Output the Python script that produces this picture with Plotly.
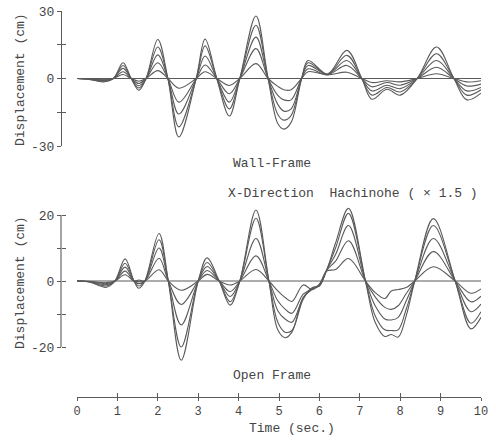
import plotly.graph_objects as go

# ---------------- data ----------------
# Wall-Frame panel: key times (s) and displacement (cm) of the five traces
T_WALL = [0.0, 0.3, 0.65, 0.9, 1.14, 1.34, 1.53, 1.71, 2.0, 2.25, 2.52, 2.95,
          3.17, 3.46, 3.77, 4.03, 4.43, 4.73, 4.97, 5.12, 5.3, 5.56, 5.72, 6.2,
          6.68, 7.05, 7.3, 7.67, 8.0, 8.42, 8.9, 9.33, 9.65, 10.0]
WALL_1 = [0, -0.4, -1.5, 0, 7.0, 0, -5.2, 0, 17.3, 0, -26.0, 0, 17.5, 0, -16.7, 0,
          27.8, 0, -20.0, -22.5, -19.5, 0, 8.0, 2.0, 12.5, 0, -9.2, -4.8, -7.4, 0,
          14.0, 0, -9.5, -6.5]
WALL_2 = [0, -0.3, -1.2, 0, 5.8, 0, -4.2, 0, 14.0, 0, -21.5, 0, 14.5, 0, -13.5, 0,
          23.7, 0, -16.0, -18.5, -16.5, 0, 7.0, 1.9, 10.3, 0, -7.4, -4.0, -6.0, 0,
          11.0, 0, -7.4, -5.0]
WALL_3 = [0, -0.2, -0.9, 0, 4.5, 0, -3.2, 0, 10.5, 0, -15.8, 0, 10.0, 0, -10.5, 0,
          18.4, 0, -11.5, -14.5, -13.5, 0, 5.8, 1.8, 8.0, 0, -5.5, -3.0, -4.5, 0,
          8.0, 0, -5.5, -4.0]
WALL_4 = [0, -0.15, -0.6, 0, 3.0, 0, -2.2, 0, 7.0, 0, -10.5, 0, 6.0, 0, -6.8, 0,
          13.3, 0, -7.5, -9.5, -9.5, 0, 4.3, 1.7, 5.8, 0, -3.7, -1.8, -3.0, 0,
          5.0, 0, -3.3, -2.5]
WALL_5 = [0, -0.1, -0.3, 0, 1.8, 0, -1.2, 0, 3.5, 0, -4.3, 0, 3.0, 0, -3.1, 0,
          6.6, 0, -3.5, -5.0, -5.0, 0, 3.0, 1.6, 2.8, 0, -1.8, -1.0, -1.5, 0,
          2.1, 0, -1.5, -1.0]

# Open Frame panel
T_OPEN = [0.0, 0.3, 0.73, 0.94, 1.19, 1.41, 1.53, 1.68, 2.03, 2.26, 2.58, 3.0,
          3.22, 3.52, 3.79, 4.03, 4.43, 4.75, 4.97, 5.15, 5.32, 5.6, 5.82, 6.0,
          6.18, 6.4, 6.72, 7.14, 7.38, 7.62, 7.78, 7.95, 8.15, 8.36, 8.82, 9.36,
          9.75, 10.0]
OPEN_1 = [0, -0.3, -1.9, 0, 6.7, 0, -2.2, 0, 14.4, 0, -24.0, 0, 7.0, 0, -7.3, 0,
          21.5, 0, -14.8, -17.2, -15.5, -5.0, -2.6, -1.2, 3.3, 11.5, 22.0, 0,
          -12.5, -16.8, -16.2, -17.0, -10.5, 0, 18.9, 0, -14.5, -11.0]
OPEN_2 = [0, -0.25, -1.5, 0, 5.4, 0, -1.5, 0, 12.5, 0, -20.0, 0, 5.6, 0, -6.3, 0,
          19.0, 0, -12.5, -15.5, -15.0, -5.5, -2.2, -1.5, 3.3, 10.0, 20.5, 0,
          -10.5, -14.8, -15.0, -14.8, -8.5, 0, 16.8, 0, -12.8, -9.3]
OPEN_3 = [0, -0.2, -1.1, 0, 4.2, 0, -0.8, 0, 10.0, 0, -13.3, 0, 4.4, 0, -4.7, 0,
          12.9, 0, -9.0, -11.5, -12.5, -5.0, -2.0, -1.5, 3.3, 8.0, 16.8, 0,
          -7.5, -11.5, -11.8, -11.0, -6.0, 0, 12.9, 0, -9.3, -7.0]
OPEN_4 = [0, -0.15, -0.8, 0, 3.0, 0, -0.2, 0, 6.9, 0, -7.1, 0, 3.2, 0, -3.2, 0,
          7.6, 0, -6.0, -8.5, -9.8, -4.0, -2.4, -1.0, 3.3, 6.0, 12.2, 0,
          -4.8, -8.0, -8.6, -7.5, -3.8, 0, 8.9, 0, -6.3, -4.6]
OPEN_5 = [0, -0.1, -0.5, 0, 1.9, 0, 0.3, 0, 3.4, 0, -2.8, 0, 2.0, 0, -1.2, 0,
          3.5, 0, -3.0, -5.0, -6.2, -1.2, -2.6, -1.0, 3.0, 3.5, 6.8, 0,
          -3.5, -5.3, -3.0, -2.6, -2.0, 0, 4.3, 0, -3.7, -2.4]

BASE_T = [0.0, 10.0]
BASE_Y = [0.0, 0.0]

X_TICKS = [0, 1, 2, 3, 4, 5, 6, 7, 8, 9, 10]
X_TICK_TEXT = ["0", "1", "2", "3", "4", "5", "6", "7", "8", "9", "10"]
WALL_TICKS = [-30, -15, 0, 15, 30]
WALL_TICK_TEXT = ["-30", "", "0", "", "30"]
OPEN_TICKS = [-20, -10, 0, 10, 20]
OPEN_TICK_TEXT = ["-20", "", "0", "", "20"]
OPEN_AXIS_SPAN = [-20, 20]

# ---------------- style ----------------
W, H = 496, 444
INK = "#5a5a5a"
TXT = "#454545"
FONT = "Liberation Mono"
LW = 1.1

def px(x):
    return x / W

def py(y):
    return 1 - y / H

X_DOM = [px(77), px(481)]
Y_AXIS_POS = px(61)
TOP_DOM = [py(146), py(11)]
BOT_DOM = [py(363.5), py(198.5)]
X_AXIS_POS = py(397)

fig = go.Figure()

for vals in [WALL_1, WALL_2, WALL_3, WALL_4, WALL_5]:
    fig.add_trace(go.Scatter(x=T_WALL, y=vals, mode="lines", xaxis="x", yaxis="y",
                             line=dict(color=INK, width=LW, shape="spline", smoothing=1.0),
                             hoverinfo="skip", showlegend=False))
fig.add_trace(go.Scatter(x=BASE_T, y=BASE_Y, mode="lines", xaxis="x", yaxis="y3",
                         line=dict(color=INK, width=LW), hoverinfo="skip", showlegend=False))

for vals in [OPEN_1, OPEN_2, OPEN_3, OPEN_4, OPEN_5]:
    fig.add_trace(go.Scatter(x=T_OPEN, y=vals, mode="lines", xaxis="x2", yaxis="y2",
                             line=dict(color=INK, width=LW, shape="spline", smoothing=1.0),
                             hoverinfo="skip", showlegend=False))
fig.add_trace(go.Scatter(x=BASE_T, y=BASE_Y, mode="lines", xaxis="x3", yaxis="y4",
                         line=dict(color=INK, width=LW), hoverinfo="skip", showlegend=False))

tickfont = dict(family=FONT, size=13, color=TXT)
xtickfont = dict(family=FONT, size=12, color=TXT)

fig.update_layout(
    width=W, height=H,
    margin=dict(l=0, r=0, t=0, b=0, autoexpand=False),
    paper_bgcolor="white", plot_bgcolor="white",
    font=dict(family=FONT, size=13, color=TXT),
    xaxis=dict(domain=X_DOM, range=[0, 10], anchor="y", visible=False, automargin=False),
    yaxis=dict(domain=TOP_DOM, range=[-30, 30], anchor="free", position=Y_AXIS_POS,
               tickvals=WALL_TICKS, ticktext=WALL_TICK_TEXT, ticks="outside", ticklen=4,
               tickcolor=INK, showline=True, linecolor=INK, linewidth=LW,
               showgrid=False, zeroline=False, tickfont=tickfont, automargin=False),
    yaxis3=dict(overlaying="y", range=[-30, 30], anchor="free", position=Y_AXIS_POS,
                tickvals=WALL_TICKS, ticks="inside", ticklen=4, tickcolor=INK,
                showticklabels=False, showline=False, showgrid=False, zeroline=False,
                automargin=False),
    xaxis2=dict(domain=X_DOM, range=[0, 10], anchor="free", position=X_AXIS_POS,
                tickvals=X_TICKS, ticktext=X_TICK_TEXT, ticks="outside", ticklen=3,
                tickcolor=INK, showline=True, linecolor=INK, linewidth=LW,
                showgrid=False, zeroline=False, tickfont=xtickfont, automargin=False),
    xaxis3=dict(overlaying="x2", range=[0, 10], anchor="free", position=X_AXIS_POS,
                tickvals=X_TICKS, ticks="inside", ticklen=4, tickcolor=INK,
                showticklabels=False, showline=False, showgrid=False, zeroline=False,
                automargin=False),
    yaxis2=dict(domain=BOT_DOM, range=[-25, 25], anchor="free", position=Y_AXIS_POS,
                tickvals=OPEN_TICKS, ticktext=OPEN_TICK_TEXT, ticks="outside", ticklen=4,
                tickcolor=INK, showline=False, showgrid=False, zeroline=False,
                tickfont=tickfont, automargin=False),
    yaxis4=dict(overlaying="y2", range=[-25, 25], anchor="free", position=Y_AXIS_POS,
                tickvals=OPEN_TICKS, ticks="inside", ticklen=4, tickcolor=INK,
                showticklabels=False, showline=False, showgrid=False, zeroline=False,
                automargin=False),
    shapes=[dict(type="line", xref="paper", x0=Y_AXIS_POS, x1=Y_AXIS_POS,
                 yref="y2", y0=OPEN_AXIS_SPAN[0], y1=OPEN_AXIS_SPAN[1],
                 line=dict(color=INK, width=LW))],
)

def note(text, x, y, angle=0):
    fig.add_annotation(text=text, x=px(x), y=py(y), xref="paper", yref="paper",
                       showarrow=False, textangle=angle, xanchor="center", yanchor="middle",
                       font=dict(family=FONT, size=13, color=TXT))

note("Wall-Frame", 272, 163)
note("X-Direction\u00a0\u00a0Hachinohe\u00a0(\u00a0×\u00a01.5\u00a0)", 353, 193)
note("Open Frame", 272, 375)
note("Time (sec.)", 292, 428)
note("Displacement (cm)", 21, 80, -90)
note("Displacement (cm)", 20, 283, -90)

fig.write_html("out.html", config={"displayModeBar": False},
               post_script="document.body.style.margin='0';document.body.style.overflow='hidden';")
